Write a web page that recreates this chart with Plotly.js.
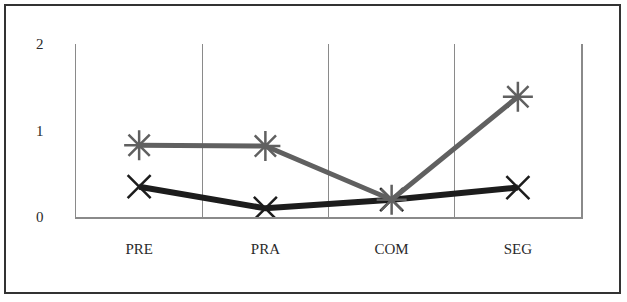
<!DOCTYPE html>
<html>
<head>
<meta charset="utf-8">
<script src="https://cdn.plot.ly/plotly-3.0.1.min.js"></script>
<style>
html,body{margin:0;padding:0;background:#fff;}
#chart{position:absolute;left:0;top:0;width:627px;height:302px;}
#frame{position:absolute;left:4px;top:4px;width:613px;height:286px;border:2px solid #333;pointer-events:none;}
</style>
</head>
<body>
<div id="chart"></div>
<div id="frame"></div>
<script>
const categories = ["PRE", "PRA", "COM", "SEG"];
const seriesGray = [0.83, 0.82, 0.20, 1.39];
const seriesBlack = [0.35, 0.10, 0.20, 0.34];
const yTickVals = [0, 1, 2];
const yTickText = ["0", "1", "2"];

const traces = [
  {
    x: categories, y: seriesBlack, type: "scatter", mode: "lines+markers",
    line: {color: "#1c1c1c", width: 6},
    marker: {symbol: "x-thin-open", size: 23, color: "#1c1c1c", line: {color: "#1c1c1c", width: 2.5}},
    showlegend: false, hoverinfo: "skip"
  },
  {
    x: categories, y: seriesGray, type: "scatter", mode: "lines+markers",
    line: {color: "#606060", width: 5},
    marker: {symbol: "asterisk-open", size: 25, color: "#606060", line: {color: "#606060", width: 2.5}},
    showlegend: false, hoverinfo: "skip"
  }
];

const layout = {
  width: 627, height: 302,
  margin: {l: 76, r: 46, t: 44, b: 85},
  paper_bgcolor: "#fff", plot_bgcolor: "#fff",
  font: {family: "Liberation Serif, DejaVu Serif, serif", size: 15, color: "#2a2a2a"},
  xaxis: {
    type: "category", range: [-0.5, 3.5],
    tickson: "boundaries", showgrid: true, gridcolor: "#8a8a8a", gridwidth: 1,
    showline: true, linecolor: "#8a8a8a", linewidth: 1.5,
    ticks: "", ticklabelstandoff: 17,
    zeroline: false, fixedrange: true
  },
  yaxis: {
    range: [0, 2], tickvals: yTickVals, ticktext: yTickText,
    showgrid: false, zeroline: false,
    showline: true, mirror: true, linecolor: "#8a8a8a", linewidth: 1.5,
    ticks: "outside", ticklen: 28, tickcolor: "rgba(0,0,0,0)",
    fixedrange: true
  }
};

Plotly.newPlot("chart", traces, layout, {displayModeBar: false, staticPlot: true});
</script>
</body>
</html>
